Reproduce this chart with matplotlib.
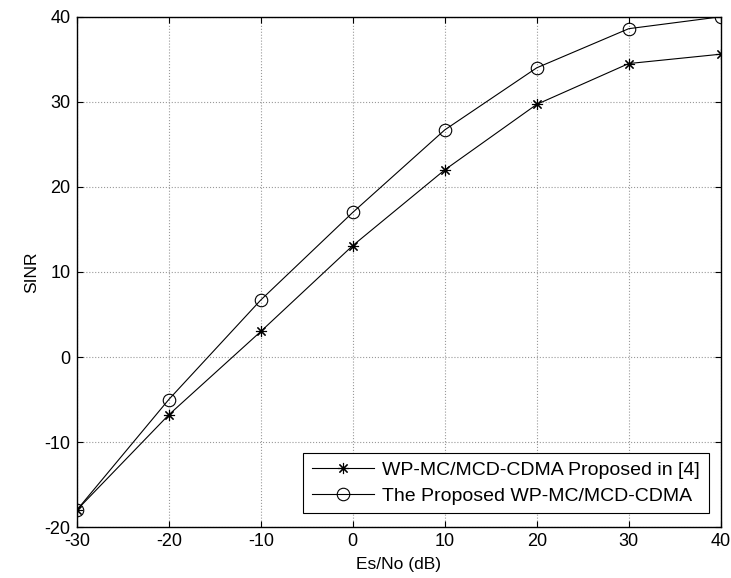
import matplotlib
matplotlib.use("Agg")
import matplotlib.pyplot as plt


# --------------------------------------------------------
# Data
# --------------------------------------------------------

es_no = [-30, -20, -10, 0, 10, 20, 30, 40]

sinr_ref4 = [-18.0, -6.8, 3.0, 13.1, 22.0, 29.7, 34.5, 35.6]

sinr_proposed = [-18.0, -5.0, 6.7, 17.0, 26.7, 34.0, 38.6, 40.0]

x_ticks = [-30, -20, -10, 0, 10, 20, 30, 40]
y_ticks = [-20, -10, 0, 10, 20, 30, 40]


# --------------------------------------------------------
# Figure
# --------------------------------------------------------

plt.rcParams["font.family"] = ["Liberation Sans", "DejaVu Sans"]
plt.rcParams["font.size"] = 12.5
plt.rcParams["axes.unicode_minus"] = False

fig = plt.figure(figsize=(7.31, 5.78), dpi=100)

ax = fig.add_axes([0.105, 0.088, 0.881, 0.883])

ax.plot(
    es_no,
    sinr_ref4,
    color="black",
    linewidth=0.8,
    marker=(8, 2, 0),
    markersize=8,
    markeredgewidth=0.8,
    label="WP-MC/MCD-CDMA Proposed in [4]",
)

ax.plot(
    es_no,
    sinr_proposed,
    color="black",
    linewidth=0.8,
    marker="o",
    markersize=9,
    markerfacecolor="none",
    markeredgewidth=0.8,
    label="The Proposed WP-MC/MCD-CDMA",
)

ax.set_xlim(-30, 40)
ax.set_ylim(-20, 40)

ax.set_xticks(x_ticks)
ax.set_yticks(y_ticks)

ax.tick_params(direction="in", length=4, width=0.8, top=True, right=True,
               labelsize=13)
ax.tick_params(axis="x", pad=4)
ax.tick_params(axis="y", pad=4.5)

ax.grid(True, color="#999999", linestyle=":", linewidth=0.8)

for spine in ax.spines.values():
    spine.set_linewidth(1.0)

ax.set_xlabel("Es/No (dB)", labelpad=5)
ax.set_ylabel("SINR", labelpad=4)

leg = ax.legend(
    loc="lower right",
    bbox_to_anchor=(0.981, 0.027),
    fancybox=False,
    framealpha=1,
    edgecolor="black",
    borderpad=0.45,
    labelspacing=0.4,
    handlelength=3.2,
    handletextpad=0.4,
    borderaxespad=0,
    fontsize=14,
)
leg.get_frame().set_linewidth(0.8)

fig.savefig("out.png", dpi=100)
